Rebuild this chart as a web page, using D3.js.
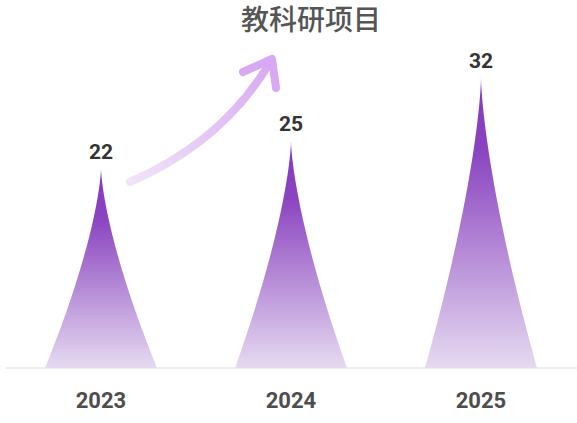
<!DOCTYPE html>
<html>
<head>
<meta charset="utf-8">
<script src="https://cdn.jsdelivr.net/npm/d3@7/dist/d3.min.js"></script>
<style>
  html, body { margin: 0; padding: 0; background: #fff; }
  svg { display: block; }
</style>
</head>
<body>
<svg id="chart" width="577" height="423"></svg>
<script>
const categories = ["2023", "2024", "2025"];
const values = [22, 25, 32];
const title = "教科研项目";

const W = 577, H = 423;
const svg = d3.select("#chart");

const x = d3.scaleBand().domain(categories).range([6, 576]).padding(0);
const y = d3.scaleLinear().domain([0, 40]).range([368, 5.5]);

const defs = svg.append("defs");
const grad = defs.append("linearGradient")
  .attr("id", "peakGrad").attr("x1", 0).attr("y1", 0).attr("x2", 0).attr("y2", 1);
grad.append("stop").attr("offset", "0%").attr("stop-color", "#8538bd");
grad.append("stop").attr("offset", "25%").attr("stop-color", "#8a44c0");
grad.append("stop").attr("offset", "100%").attr("stop-color", "#e6daf0");

const arrowGrad = defs.append("linearGradient")
  .attr("id", "arrowGrad").attr("gradientUnits", "userSpaceOnUse")
  .attr("x1", 130).attr("y1", 182).attr("x2", 272).attr("y2", 60);
arrowGrad.append("stop").attr("offset", "0%").attr("stop-color", "#f1e4f8");
arrowGrad.append("stop").attr("offset", "100%").attr("stop-color", "#d8a8f2");

// title
svg.append("text")
  .attr("x", 311).attr("y", 30)
  .attr("text-anchor", "middle")
  .attr("font-family", "'Noto Sans CJK SC', sans-serif")
  .attr("font-size", 28).attr("font-weight", 500)
  .attr("fill", "#555")
  .text(title);

// axis line
svg.append("line")
  .attr("x1", 6).attr("x2", W).attr("y1", y(0)).attr("y2", y(0))
  .attr("stroke", "#dcdcdc").attr("stroke-width", 1);

// peak shapes (concave-sided triangles)
const widthFrac = 0.59;
const profile = d3.range(0, 1.0001, 0.02); // s: fraction of height from base
function peakPath(cat, v) {
  const cx = x(cat) + x.bandwidth() / 2;
  const half = x.bandwidth() * widthFrac / 2;
  const y0 = y(0), y1 = y(v);
  const pts = [];
  profile.forEach(s => pts.push([cx - half * Math.pow(1 - s, 1.45), y0 + (y1 - y0) * s]));
  profile.slice().reverse().forEach(s => pts.push([cx + half * Math.pow(1 - s, 1.45), y0 + (y1 - y0) * s]));
  return d3.line()(pts) + "Z";
}

svg.append("g").selectAll("path")
  .data(categories)
  .join("path")
  .attr("d", (c, i) => peakPath(c, values[i]))
  .attr("fill", "url(#peakGrad)");

// value labels
svg.append("g").selectAll("text")
  .data(categories)
  .join("text")
  .attr("x", c => x(c) + x.bandwidth() / 2)
  .attr("y", (c, i) => y(values[i]) - 10)
  .attr("text-anchor", "middle")
  .attr("font-family", "Roboto, 'Noto Sans', sans-serif")
  .attr("font-weight", 700).attr("font-size", 21)
  .attr("fill", "#333")
  .text((c, i) => values[i]);

// category labels
const xAxis = d3.axisBottom(x).tickSize(0).tickPadding(0);
const gx = svg.append("g").attr("transform", `translate(0,${y(0)})`).call(xAxis);
gx.select(".domain").remove();
gx.selectAll("text")
  .attr("y", 40)
  .attr("dy", 0)
  .attr("font-family", "Roboto, 'Noto Sans', sans-serif")
  .attr("font-weight", 700).attr("font-size", 22)
  .attr("fill", "#4d4d4d");

// decorative growth arrow
svg.append("path")
  .attr("d", "M130,182 Q222,142 269,64")
  .attr("fill", "none")
  .attr("stroke", "url(#arrowGrad)")
  .attr("stroke-width", 8)
  .attr("stroke-linecap", "round");
svg.append("path")
  .attr("d", "M243,72 L272,59 L276,88")
  .attr("fill", "none")
  .attr("stroke", "#d8a9f2")
  .attr("stroke-width", 8)
  .attr("stroke-linecap", "round")
  .attr("stroke-linejoin", "round");
</script>
</body>
</html>
